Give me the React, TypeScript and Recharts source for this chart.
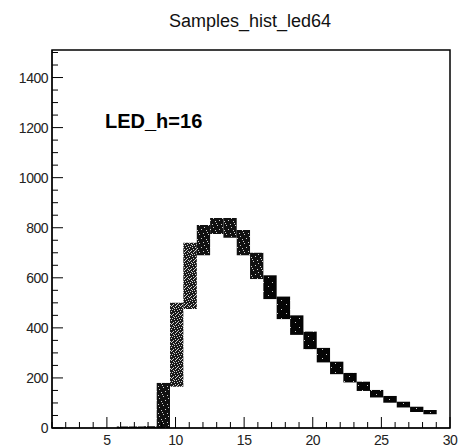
import { Area, ComposedChart, ReferenceArea, XAxis, YAxis } from "recharts";

const chartTitle = "Samples_hist_led64";
const ledLabel = "LED_h=16";

// bin edges along x (sample index), one more than bins
const binEdges = [
  5.72, 6.69, 7.66, 8.63, 9.6, 10.57, 11.55, 12.52, 13.49, 14.46, 15.43, 16.4,
  17.37, 18.35, 19.32, 20.29, 21.26, 22.23, 23.2, 24.17, 25.14, 26.12, 27.09,
  28.06, 29.03,
];
// lower / upper edge of the sample cloud in each bin
const binLow = [
  0, 0, 0, 0, 165, 475, 690, 775, 760, 690, 595, 515, 435, 372, 315, 262, 215,
  182, 148, 122, 101, 82, 64, 55,
];
const binHigh = [
  6, 6, 7, 180, 500, 740, 811, 839, 839, 791, 700, 610, 525, 450, 385, 320, 265,
  220, 185, 152, 128, 105, 85, 72,
];

const xMajor = [5, 10, 15, 20, 25, 30];
const yMajor = [0, 200, 400, 600, 800, 1000, 1200, 1400];
const xTicks = Array.from({ length: 30 }, (_, i) => i + 1);
const yTicks = Array.from({ length: 31 }, (_, i) => i * 50);

const W = 467;
const H = 448;

// taller clouds are sparser
const density = (lo: number, hi: number) => {
  if (hi - lo > 200) return "medium";
  if (hi > 650 || hi - lo > 150) return "dark";
  return "solid";
};

const bins = binLow.map((lo, i) => ({
  id: i,
  pattern: density(lo, binHigh[i]),
  points: [
    { x: binEdges[i], range: [lo, binHigh[i]] },
    { x: binEdges[i + 1], range: [lo, binHigh[i]] },
  ],
}));

const XTick = ({ x, y, payload }: any) => {
  const major = xMajor.includes(payload.value);
  return (
    <g>
      <line x1={x} x2={x} y1={y} y2={y - (major ? 11 : 6)} stroke="#000" />
      {major && (
        <text
          x={x}
          y={y + 17}
          textAnchor="middle"
          fontSize={14}
          letterSpacing={-0.5}
          fill="#222"
          fontFamily="Liberation Sans, Arial, sans-serif"
        >
          {payload.value}
        </text>
      )}
    </g>
  );
};

const YTick = ({ x, y, payload }: any) => {
  const major = yMajor.includes(payload.value);
  return (
    <g>
      <line x1={x} x2={x + (major ? 11 : 6)} y1={y} y2={y} stroke="#000" />
      {major && (
        <text
          x={x - 4}
          y={y + 5}
          textAnchor="end"
          fontSize={14}
          letterSpacing={-0.5}
          fill="#222"
          fontFamily="Liberation Sans, Arial, sans-serif"
        >
          {payload.value}
        </text>
      )}
    </g>
  );
};

const speckle = (pts: number[][]) =>
  pts.map(([px, py], k) => (
    <rect key={k} x={px} y={py} width={1} height={1} fill="#fff" opacity={0.8} />
  ));

export default function App() {
  return (
    <div
      style={{
        position: "absolute",
        left: 0,
        top: 0,
        width: W,
        height: H,
        overflow: "hidden",
        background: "#fff",
      }}
    >
      <ComposedChart
        width={W}
        height={H}
        margin={{ top: 50, right: 17, bottom: 0, left: 0 }}
      >
        <defs>
          <pattern id="medium" width={9} height={9} patternUnits="userSpaceOnUse">
            <rect width={9} height={9} fill="#1a1a1a" />
            {speckle([
              [0, 0], [4, 0], [7, 1], [2, 1], [5, 2], [8, 3], [1, 3],
              [3, 4], [6, 4], [0, 5], [4, 6], [7, 6], [2, 7], [5, 8],
              [8, 8], [1, 8], [6, 7], [3, 2],
            ])}
          </pattern>
          <pattern id="dark" width={9} height={9} patternUnits="userSpaceOnUse">
            <rect width={9} height={9} fill="#111" />
            {speckle([[1, 0], [6, 2], [3, 4], [8, 5], [0, 7], [5, 8]])}
          </pattern>
          <pattern id="solid" width={9} height={9} patternUnits="userSpaceOnUse">
            <rect width={9} height={9} fill="#050505" />
            {speckle([[2, 3], [7, 7]])}
          </pattern>
        </defs>
        <XAxis
          dataKey="x"
          type="number"
          domain={[1, 30]}
          allowDataOverflow
          ticks={xTicks}
          interval={0}
          tick={XTick}
          tickLine={false}
          tickSize={0}
          tickMargin={0}
          height={20}
          axisLine={{ stroke: "#000" }}
        />
        <YAxis
          type="number"
          domain={[0, 1510]}
          allowDataOverflow
          ticks={yTicks}
          interval={0}
          tick={YTick}
          tickLine={false}
          tickSize={0}
          tickMargin={0}
          width={52}
          axisLine={{ stroke: "#000" }}
        />
        {bins.map((b) => (
          <Area
            key={b.id}
            data={b.points}
            dataKey="range"
            type="linear"
            stroke="none"
            fill={`url(#${b.pattern})`}
            fillOpacity={1}
            dot={false}
            activeDot={false}
            isAnimationActive={false}
          />
        ))}
        <ReferenceArea
          x1={1}
          x2={30}
          y1={0}
          y2={1510}
          fill="none"
          stroke="#000"
          strokeWidth={1.5}
        />
      </ComposedChart>
      <svg
        width={W}
        height={H}
        style={{ position: "absolute", left: 0, top: 0, pointerEvents: "none" }}
      >
        <text
          x={250}
          y={27}
          textAnchor="middle"
          fontSize={18}
          fill="#111"
          fontFamily="Liberation Sans, Arial, sans-serif"
        >
          {chartTitle}
        </text>
        <text
          x={105}
          y={128}
          fontSize={20}
          fontWeight="bold"
          fill="#000"
          fontFamily="Liberation Sans, Arial, sans-serif"
        >
          {ledLabel}
        </text>
      </svg>
    </div>
  );
}
